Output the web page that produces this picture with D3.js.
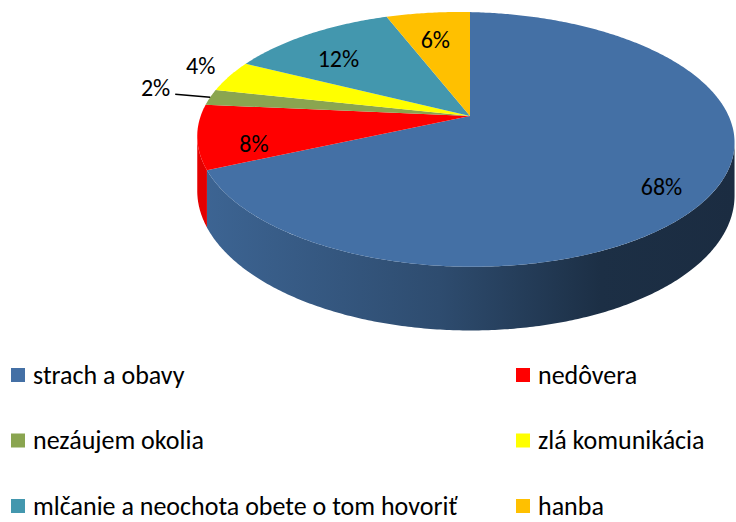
<!DOCTYPE html>
<html>
<head>
<meta charset="utf-8">
<script src="https://cdn.jsdelivr.net/npm/d3@7"></script>
<style>
  body { margin: 0; background: #fff; }
  svg text { font-family: Carlito, Lato, "Liberation Sans", sans-serif; font-weight: normal; fill: #000; }
</style>
</head>
<body>
<svg id="chart"></svg>
<script>
// data (percent)
var categories = ["strach a obavy", "nedôvera", "nezáujem okolia", "zlá komunikácia",
                  "mlčanie a neochota obete o tom hovoriť", "hanba"];
var values = [68, 8, 2, 4, 12, 6];
var colors = ["#4470a5", "#ff0000", "#8aa550", "#ffff00", "#4397ae", "#ffc000"];

/*************** settings *****************/
var width = 736,
    height = 522,
    cx = 470, cy = 116,      // pie centre on screen
    A = 264, D = 123,        // half axes of the disc
    C = 3.5,                 // slight roll of the disc
    P = 0.015, Q = -0.184,   // perspective terms
    depth = 52,              // thickness of the pie
    labelSize = 24,
    legendSize = 26;

var svg = d3.select("#chart")
    .attr("width", width)
    .attr("height", height);

var defs = svg.append("defs");

// perspective projection of a point of the disc (angle clockwise from 12 o'clock)
function project(theta, r, h) {
  var u = r * Math.sin(theta), v = -r * Math.cos(theta);
  var w = 1 + P * u + Q * v;
  return [cx + A * u / w, cy + (D * v + C * u + (h || 0)) / w];
}

function rim(a0, a1, h) {
  var n = Math.max(2, Math.ceil(Math.abs(a1 - a0) / 0.01));
  return d3.range(n + 1).map(function(i) { return project(a0 + (a1 - a0) * i / n, 1, h); });
}

var pie = d3.pie().sort(null).startAngle(0).endAngle(2 * Math.PI);
var arcs = pie(values);

// silhouette: where the rim is furthest right / left
var samples = d3.range(0, 2 * Math.PI, 0.002);
var tRight = d3.greatest(samples, function(t) { return project(t, 1)[0]; });
var tLeft = d3.least(samples, function(t) { return project(t, 1)[0]; });
var xMin = project(tLeft, 1)[0], xMax = project(tRight, 1)[0];

var line = d3.line();

/*************** side walls *****************/
var gSide = svg.append("g").attr("class", "sides");

arcs.forEach(function(d, i) {
  var a0 = Math.max(d.startAngle, tRight),
      a1 = Math.min(d.endAngle, tLeft);
  if (a1 <= a0) return;

  var c = d3.color(colors[i]);
  var grad = defs.append("linearGradient")
      .attr("id", "side" + i)
      .attr("gradientUnits", "userSpaceOnUse")
      .attr("x1", xMin).attr("x2", xMax).attr("y1", 0).attr("y2", 0);
  [[0, 0.3], [0.45, 1.1], [0.75, 2.45], [1, 2.6]].forEach(function(s) {
    grad.append("stop").attr("offset", s[0]).attr("stop-color", c.darker(s[1]));
  });

  var pts = rim(a0, a1, 0).concat(rim(a1, a0, depth));
  gSide.append("path")
      .attr("d", line(pts) + "Z")
      .attr("fill", "url(#side" + i + ")");
});

/*************** top faces *****************/
svg.append("g").attr("class", "tops")
  .selectAll("path")
  .data(arcs)
  .enter().append("path")
    .attr("d", function(d) { return line([[cx, cy]].concat(rim(d.startAngle, d.endAngle, 0))) + "Z"; })
    .attr("fill", function(d, i) { return colors[i]; });

/*************** data labels *****************/
var gLab = svg.append("g").attr("class", "labels")
    .style("font-size", labelSize + "px");

arcs.forEach(function(d, i) {
  var mid = (d.startAngle + d.endAngle) / 2,
      txt = values[i] + "%";
  if (values[i] >= 5) {
    var p = project(mid, 0.8, depth * 0.2);
    gLab.append("text")
        .attr("x", p[0]).attr("y", p[1])
        .attr("text-anchor", "middle")
        .attr("dy", "0.35em")
        .text(txt);
  } else if (values[i] >= 3) {
    var q = project(mid, 1.06, 0);
    gLab.append("text")
        .attr("x", q[0]).attr("y", q[1])
        .attr("text-anchor", "end")
        .text(txt);
  } else {
    var s = project(mid, 1, 0),
        e = [s[0] - 35, s[1] - 3];
    gLab.append("path")
        .attr("d", line([s, e]))
        .attr("stroke", "#000")
        .attr("stroke-width", 1.3)
        .attr("fill", "none");
    gLab.append("text")
        .attr("x", e[0] - 5).attr("y", e[1] - 7)
        .attr("text-anchor", "end")
        .attr("dy", "0.35em")
        .text(txt);
  }
});

/*************** legend *****************/
var colX = d3.scaleOrdinal().domain([0, 1]).range([11, 516]);
var rowY = d3.scaleLinear().domain([0, 2]).range([375, 506]);

var legend = svg.append("g").attr("class", "legend")
  .selectAll("g")
  .data(categories)
  .enter().append("g")
    .attr("transform", function(d, i) {
      return "translate(" + colX(i % 2) + "," + rowY(Math.floor(i / 2)) + ")";
    });

legend.append("rect")
    .attr("x", 0).attr("y", -7)
    .attr("width", 14).attr("height", 14)
    .attr("fill", function(d, i) { return colors[i]; });

legend.append("text")
    .attr("x", 22)
    .attr("dy", "0.33em")
    .style("font-size", legendSize + "px")
    .text(function(d) { return d; });
</script>
</body>
</html>
